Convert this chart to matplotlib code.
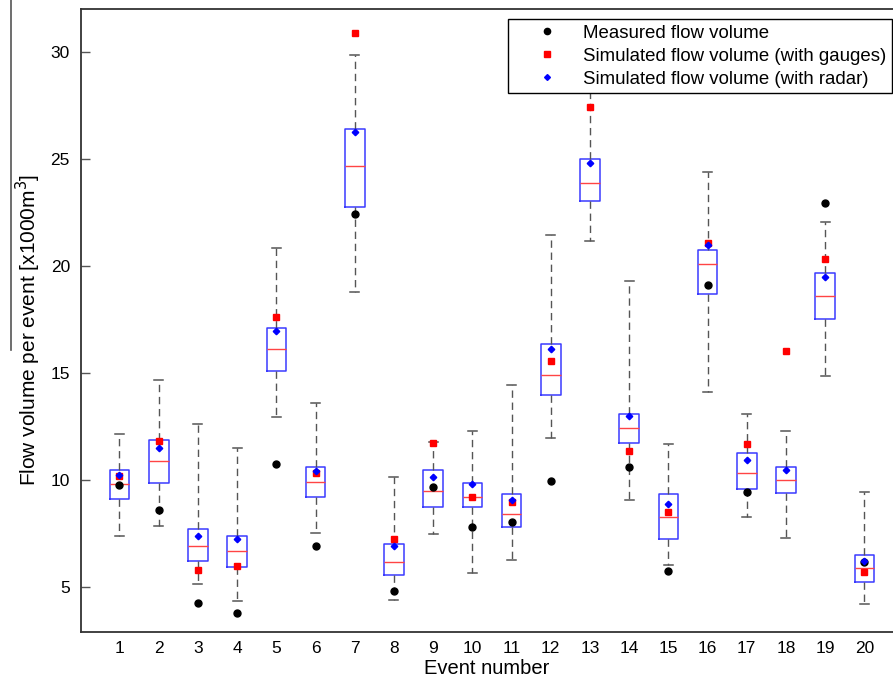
import numpy as np
import matplotlib
matplotlib.use("Agg")
import matplotlib.pyplot as plt
from matplotlib.lines import Line2D

plt.rcParams['font.family'] = ['Liberation Sans', 'DejaVu Sans']

events = list(range(1, 21))

# Box statistics per event [x1000 m3]
whislo = [7.40, 7.85, 5.13, 4.35, 12.93, 7.52, 18.79, 4.39, 7.48, 5.67,
          6.25, 11.98, 21.17, 9.05, 6.03, 14.11, 8.27, 7.28, 14.86, 4.19]
q1 = [9.10, 9.85, 6.20, 5.95, 15.11, 9.22, 22.77, 5.55, 8.75, 8.75,
      7.80, 13.99, 23.02, 11.71, 7.24, 18.69, 9.58, 9.38, 17.51, 5.23]
med = [9.80, 10.87, 6.90, 6.67, 16.11, 9.92, 24.69, 6.15, 9.50, 9.21,
       8.40, 14.91, 23.88, 12.43, 8.27, 20.09, 10.33, 10.00, 18.61, 5.89]
q3 = [10.48, 11.88, 7.72, 7.40, 17.09, 10.62, 26.39, 7.01, 10.48, 9.87,
      9.35, 16.36, 25.00, 13.08, 9.35, 20.76, 11.28, 10.62, 19.66, 6.50]
whishi = [12.13, 14.69, 12.63, 11.48, 20.84, 13.61, 29.86, 10.15, 11.78, 12.30,
          14.42, 21.45, 28.60, 19.31, 11.68, 24.38, 13.08, 12.29, 22.06, 9.45]

measured = [9.77, 8.60, 4.27, 3.77, 10.75, 6.93, 22.43, 4.83, 9.66, 7.80,
            8.02, 9.95, np.nan, 10.61, 5.75, 19.11, 9.42, np.nan, 22.94, 6.15]
sim_gauges = [10.20, 11.81, 5.79, 6.00, 17.63, 10.33, 30.90, 7.23, 11.75, 9.21,
              8.96, 15.56, 27.44, 11.36, 8.49, 21.06, 11.68, 16.01, 20.31, 5.72]
sim_radar = [10.25, 11.51, 7.40, 7.26, 16.96, 10.40, 26.25, 6.90, 10.15, 9.80,
             9.08, 16.14, 24.83, 13.00, 8.89, 20.98, 10.95, 10.45, 19.49, 6.21]

fig = plt.figure(figsize=(8.93, 6.84), dpi=100)
ax = fig.add_axes([81 / 893, 1 - 631.5 / 684, 1 - 81 / 893, (631.5 - 9) / 684])

stats = [dict(whislo=a, q1=b, med=c, q3=d, whishi=e, fliers=[])
         for a, b, c, d, e in zip(whislo, q1, med, q3, whishi)]

ax.bxp(stats, positions=events, widths=0.5, capwidths=0.23, showfliers=False,
       boxprops=dict(color='#3b3bff', linewidth=1.1),
       medianprops=dict(color='#ff4444', linewidth=1.0),
       whiskerprops=dict(color='#555555', linewidth=1.0, linestyle=(0, (5.3, 3.4))),
       capprops=dict(color='#555555', linewidth=1.1),
       manage_ticks=False)

ax.plot(events, measured, 'o', color='black', markersize=5,
        linestyle='none', label='Measured flow volume', zorder=4)
ax.plot(events, sim_gauges, 's', color='#ff0000', markersize=5,
        linestyle='none', label='Simulated flow volume (with gauges)', zorder=5)
ax.plot(events, sim_radar, 'D', color='#0000ff', markersize=3.3,
        linestyle='none', label='Simulated flow volume (with radar)', zorder=6)

ax.set_xlim(0.018, 20.73)
ax.set_ylim(2.92, 32.01)
ax.set_xticks(events)
ax.set_yticks([5, 10, 15, 20, 25, 30])
ax.tick_params(axis='y', direction='in', length=6.5, width=1, color='#555555',
               labelsize=12.5, pad=8)
ax.tick_params(axis='x', length=0, labelsize=12.5, pad=7)

for side in ('left', 'bottom', 'top'):
    ax.spines[side].set_color('#333333')
    ax.spines[side].set_linewidth(1.3)
ax.spines['right'].set_visible(False)

ax.set_xlabel('Event number', fontsize=14.5, labelpad=2)
ax.set_ylabel('Flow volume per event [x1000m$^3$]', fontsize=15, labelpad=5)
ax.yaxis.label.set_y(0.485)

leg = ax.legend(loc='upper right', bbox_to_anchor=(892 / 893, 1 - 19 / 684),
                bbox_transform=fig.transFigure, borderaxespad=0,
                fontsize=13.4, frameon=True, fancybox=False, framealpha=1,
                edgecolor='black', handlelength=3.6, handletextpad=0.13,
                borderpad=0.3, labelspacing=0.32, markerscale=0.9)
leg.get_frame().set_linewidth(1.0)
leg.set_zorder(10)

fig.add_artist(Line2D([10.7 / 893, 10.7 / 893], [1.0, 1 - 350 / 684],
                      color='#555555', linewidth=1.2))

fig.savefig('out.png', dpi=100)
